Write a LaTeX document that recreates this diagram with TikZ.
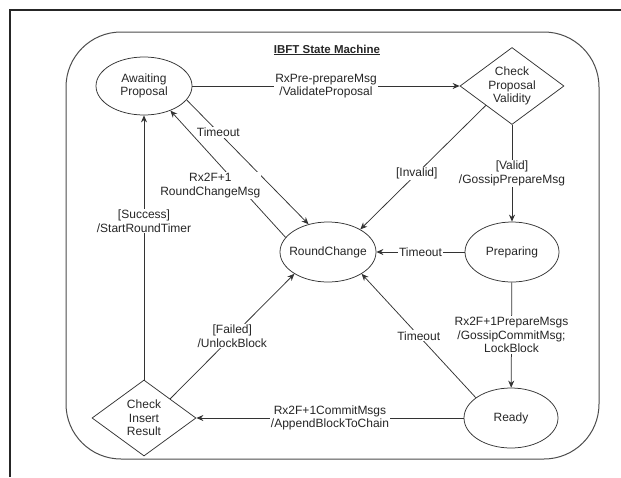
\documentclass[tikz,border=0pt]{standalone}
\usepackage{fontspec}
\setmainfont{Liberation Sans}
\usetikzlibrary{arrows.meta}
\usetikzlibrary{shapes.geometric}

\tikzset{
  state/.style={ellipse, draw=black!80, line width=0.75pt, inner xsep=-6pt, inner ysep=0pt,
    minimum width=96pt, minimum height=60pt, align=center},
  check/.style={diamond, draw=black!80, line width=0.75pt, inner sep=0pt, aspect=1.33,
    minimum width=104pt, minimum height=77pt, align=center},
  trans/.style={draw=black!80, line width=0.75pt, -{Stealth[length=7pt,width=6pt]}},
  guard/.style={fill=white, inner sep=1pt, align=center}
}

\begin{document}
\begin{tikzpicture}[x=1pt, y=-1pt, font=\fontsize{12}{13.5}\selectfont, text=black!85]
          \useasboundingbox (0,0) rectangle (621,477);
          \draw [black!85, line width=1.3pt] (10,477) -- (10,10) -- (621,10);
          \draw [black!70, line width=1pt, rounded corners=55pt] (66,32) rectangle (599,459);

          \node (title) at (327,50) {\fontsize{11.5}{13}\selectfont\bfseries\underline{IBFT State Machine}};

          \node[state, minimum height=58pt] (awaiting) at (144,86) {Awaiting\\Proposal};
          \node[check] (checkprop) at (512,86) {Check\\Proposal\\Validity};
          \node[state] (roundchange) at (328,252) {RoundChange};
          \node[state, minimum width=94pt] (preparing) at (512,252) {Preparing};
          \node[state, minimum width=94pt] (ready) at (511,418) {Ready};
          \node[check, minimum height=76pt] (checkins) at (144,418) {Check\\Insert\\Result};

          \draw[trans] (awaiting) -- node[guard] {RxPre-prepareMsg\\/ValidateProposal} (checkprop);
          \draw[trans] (awaiting.-18) -- node[guard, pos=0.26] {Timeout} (roundchange.125);
          \draw[trans] (roundchange.161) -- node[guard, pos=0.41, xshift=-28pt]
          {Rx2F+1\\RoundChangeMsg} (awaiting.-43);
          \draw[trans] (checkprop.south west) -- node[guard, pos=0.55] {[Invalid]} (roundchange.35);
          \draw[trans] (checkprop) -- node[guard] {[Valid]\\/GossipPrepareMsg} (preparing);
          \draw[trans] (preparing) -- node[guard] {Timeout} (roundchange);
          \draw[trans] (preparing) -- node[guard]
          {Rx2F+1PrepareMsgs\\/GossipCommitMsg;\\LockBlock} (ready);
          \draw[trans] (ready.150) -- node[guard] {Timeout} (roundchange.-33);
          \draw[trans] (ready) -- node[guard] {Rx2F+1CommitMsgs\\/AppendBlockToChain} (checkins);
          \draw[trans] (checkins.north east) -- node[guard] {[Failed]\\/UnlockBlock} (roundchange.213);
          \draw[trans] (checkins) -- node[guard, pos=0.6] {[Success]\\/StartRoundTimer} (awaiting);

        \end{tikzpicture}
\end{document}
